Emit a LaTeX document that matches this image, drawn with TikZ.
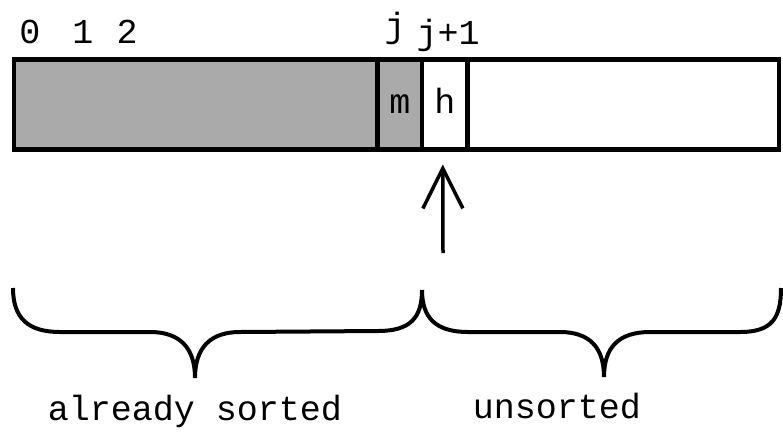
\documentclass[tikz,border=0pt]{standalone}
\usepackage{fontspec}
\usepackage{tikz}
\usetikzlibrary{positioning,arrows.meta}
\newfontfamily\cellfont{Liberation Mono}
\definecolor{sortedgray}{RGB}{170,170,170}

\begin{document}
\begin{tikzpicture}[x=1pt, y=-1pt,
  cell/.style={rectangle, draw, line width=4.5pt, inner sep=0pt, outer sep=0pt,
    minimum height=90pt, text height=25pt, text depth=7pt,
    font=\cellfont\fontsize{35}{40}\selectfont},
  idx/.style={anchor=base, inner sep=0pt, font=\cellfont\fontsize{35}{40}\selectfont},
  bracepath/.style={line width=4pt}]
\useasboundingbox (0,0) rectangle (783,434);

% Array cells
\node[cell, fill=sortedgray, minimum width=363.5pt, anchor=north west] (sorted) at (14,59.5) {};
\node[cell, fill=sortedgray, minimum width=44.5pt, right=0pt of sorted] (mcell) {m};
\node[cell, fill=white, minimum width=45.5pt, right=0pt of mcell] (hcell) {h};
\node[cell, fill=white, minimum width=311.5pt, right=0pt of hcell] (rest) {};

% Indices
\node[idx] (i0) at (30,43) {0};
\node[idx] (i1) at (83,43) {1};
\node[idx] (i2) at (127,43) {2};
\node[idx] (ij) at (395,37) {j};
\node[idx] (ijone) at (448,44) {j+1};

% Arrow to the next element
\coordinate (arrowfoot) at (443,253);
\draw[line width=3.5pt, -{Straight Barb[length=40pt, width=40pt]}] (arrowfoot) -- ([xshift=-2pt, yshift=-15pt]hcell.south);

% Braces
\draw[bracepath] (13,288) .. controls (13,318) and (28,332) .. (60,332) -- (150,332)
  .. controls (180,332) and (195,348) .. (195,378)
  .. controls (195,348) and (210,332) .. (240,332) -- (378,331)
  .. controls (410,331) and (422,318) .. (422,290);
\draw[bracepath] (422,290) .. controls (422,318) and (436,332) .. (468,332) -- (560,332)
  .. controls (590,332) and (604,348) .. (604,377)
  .. controls (604,348) and (618,332) .. (650,332) -- (740,332)
  .. controls (772,332) and (781,318) .. (781,288);

% Labels
\node[idx] (lsorted) at (195,420) {already sorted};
\node[idx] (lunsorted) at (557,418) {unsorted};
\end{tikzpicture}
\end{document}
